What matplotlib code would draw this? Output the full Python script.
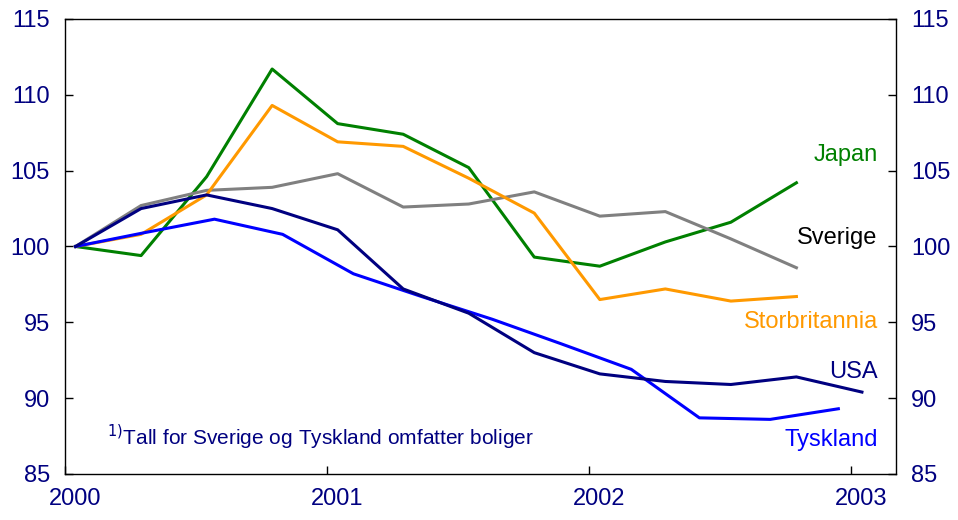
#!/usr/bin/env python3

import matplotlib
matplotlib.use('Agg')
import matplotlib.pyplot as plt
from matplotlib.transforms import ScaledTranslation

plt.rcParams['font.family'] = ['Liberation Sans', 'DejaVu Sans']

# x positions in years (quarterly points, plotted just after the year tick)
quarters = [2000.04, 2000.29, 2000.54, 2000.79, 2001.04, 2001.29, 2001.54,
            2001.79, 2002.04, 2002.29, 2002.54, 2002.79, 2003.04]
tyskland_x = [2000.04, 2000.30, 2000.57, 2000.83, 2001.10, 2001.36,
              2001.63, 2001.89, 2002.16, 2002.42, 2002.69, 2002.95]

japan = [100, 99.4, 104.6, 111.7, 108.1, 107.4, 105.2, 99.3, 98.7, 100.3, 101.6, 104.2]
sverige = [100, 102.7, 103.7, 103.9, 104.8, 102.6, 102.8, 103.6, 102.0, 102.3, 100.5, 98.6]
storbritannia = [100, 100.8, 103.4, 109.3, 106.9, 106.6, 104.5, 102.2, 96.5, 97.2, 96.4, 96.7]
usa = [100, 102.5, 103.4, 102.5, 101.1, 97.2, 95.6, 93.0, 91.6, 91.1, 90.9, 91.4, 90.4]
tyskland = [100, 100.9, 101.8, 100.8, 98.2, 96.7, 95.2, 93.6, 91.9, 88.7, 88.6, 89.3]

year_ticks = [2000, 2001, 2002, 2003]
y_ticks = [85, 90, 95, 100, 105, 110, 115]

navy = '#000080'
fs = 17

fig = plt.figure(figsize=(9.58, 5.2), dpi=100)
ax = fig.add_axes([0.0679, 0.0885, 0.8674, 0.875])

lw = 2.2
ax.plot(quarters[:len(japan)], japan, color='#008000', lw=lw)
ax.plot(quarters[:len(sverige)], sverige, color='#808080', lw=lw)
ax.plot(quarters[:len(storbritannia)], storbritannia, color='#FF9900', lw=lw)
ax.plot(tyskland_x, tyskland, color='#0000FF', lw=lw)
ax.plot(quarters[:len(usa)], usa, color=navy, lw=lw)

ax.set_xlim(2000, 2003.17)
ax.set_ylim(85, 115)
ax.set_xticks(year_ticks)
ax.set_yticks(y_ticks)
ax.tick_params(direction='in', length=6, width=1, colors='black',
               labelcolor=navy, labelsize=fs, right=True, labelright=True)
ax.tick_params(axis='y', pad=11)
ax.tick_params(axis='x', pad=10)
for lab in ax.get_xticklabels():
    lab.set_transform(lab.get_transform() + ScaledTranslation(10 / 100, 0, fig.dpi_scale_trans))
for sp in ax.spines.values():
    sp.set_linewidth(1)

# series labels
lx = 2003.10
ax.text(lx, 106.0, 'Japan', color='#008000', fontsize=fs, ha='right', va='center')
ax.text(lx, 100.55, 'Sverige', color='black', fontsize=fs, ha='right', va='center')
ax.text(lx, 95.05, 'Storbritannia', color='#FF9900', fontsize=fs, ha='right', va='center')
ax.text(lx, 91.7, 'USA', color=navy, fontsize=fs, ha='right', va='center')
ax.text(lx, 87.25, 'Tyskland', color='#0000FF', fontsize=fs, ha='right', va='center')

ax.text(2000.16, 87.4, r'$^{1)}$Tall for Sverige og Tyskland omfatter boliger',
        color=navy, fontsize=15, ha='left', va='center')

fig.savefig('out.png', dpi=100)
